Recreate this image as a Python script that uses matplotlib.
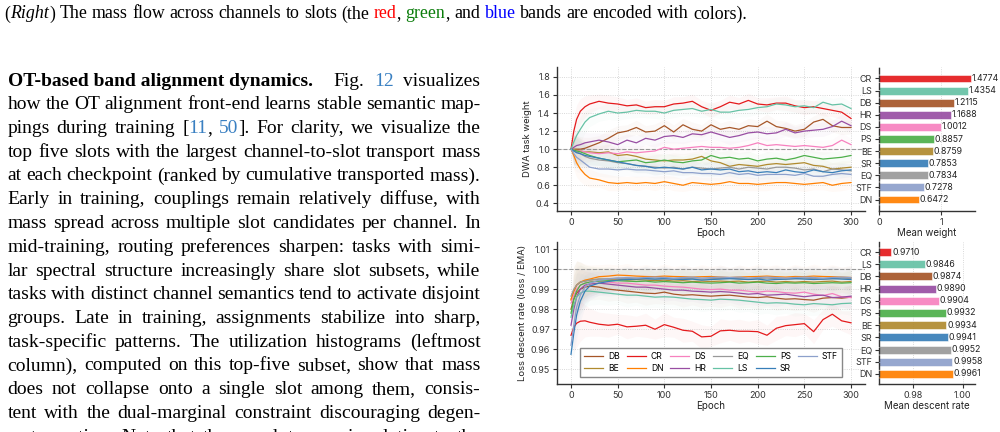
import re

import numpy as np
import matplotlib.pyplot as plt

plt.rcParams["font.family"] = ["Inter", "DejaVu Sans"]

W, H = 1000, 432

# ----------------------------- DATA -----------------------------
EPOCHS = [0, 3, 6, 10, 15, 20,
          30, 40, 50, 60, 70, 80, 90,
          100, 110, 120, 130, 140, 150, 160,
          170, 180, 190, 200, 210, 220, 230,
          240, 250, 260, 270, 280, 290, 300]

# DWA task weight (smoothed) per task
W_CR = [1.00, 1.20, 1.33, 1.42, 1.47, 1.50,
        1.53, 1.51, 1.50, 1.48, 1.49, 1.46, 1.47,
        1.47, 1.50, 1.51, 1.53, 1.47, 1.43, 1.47,
        1.52, 1.50, 1.54, 1.50, 1.49, 1.51, 1.51,
        1.48, 1.46, 1.47, 1.45, 1.43, 1.41, 1.34]
W_LS = [1.00, 1.08, 1.15, 1.22, 1.30, 1.35,
        1.39, 1.42, 1.40, 1.41, 1.43, 1.42, 1.42,
        1.40, 1.43, 1.44, 1.45, 1.42, 1.44, 1.41,
        1.41, 1.43, 1.44, 1.46, 1.47, 1.50, 1.49,
        1.47, 1.48, 1.46, 1.52, 1.49, 1.50, 1.45]
W_DB = [1.00, 1.00, 1.00, 1.00, 1.01, 1.03,
        1.07, 1.12, 1.18, 1.20, 1.24, 1.19, 1.20,
        1.26, 1.19, 1.27, 1.22, 1.20, 1.27, 1.22,
        1.24, 1.22, 1.26, 1.25, 1.31, 1.25, 1.23,
        1.20, 1.22, 1.30, 1.33, 1.26, 1.24, 1.24]
W_HR = [1.00, 1.02, 1.04, 1.05, 1.07, 1.08,
        1.10, 1.08, 1.05, 1.10, 1.07, 1.12, 1.10,
        1.14, 1.15, 1.13, 1.17, 1.16, 1.19, 1.16,
        1.13, 1.15, 1.18, 1.19, 1.17, 1.18, 1.22,
        1.18, 1.20, 1.21, 1.22, 1.25, 1.31, 1.26]
W_DS = [1.00, 0.99, 0.98, 0.98, 0.97, 0.96,
        0.95, 0.96, 0.95, 0.97, 0.96, 0.97, 0.98,
        1.02, 1.00, 1.01, 1.02, 1.03, 1.02, 1.02,
        1.01, 1.02, 1.04, 1.07, 1.04, 1.05, 1.04,
        1.03, 1.04, 1.03, 1.02, 1.04, 1.10, 1.05]
W_PS = [1.00, 0.99, 0.98, 0.97, 0.95, 0.93,
        0.90, 0.88, 0.86, 0.87, 0.88, 0.85, 0.86,
        0.88, 0.86, 0.85, 0.87, 0.88, 0.93, 0.90,
        0.91, 0.89, 0.90, 0.87, 0.89, 0.90, 0.88,
        0.90, 0.93, 0.91, 0.89, 0.90, 0.91, 0.93]
W_BE = [1.00, 0.99, 0.99, 0.98, 0.97, 0.97,
        0.96, 0.97, 0.93, 0.94, 0.92, 0.89, 0.88,
        0.87, 0.88, 0.88, 0.89, 0.92, 0.87, 0.85,
        0.81, 0.83, 0.82, 0.81, 0.83, 0.84, 0.83,
        0.84, 0.85, 0.82, 0.81, 0.78, 0.79, 0.80]
W_SR = [1.00, 0.98, 0.96, 0.95, 0.93, 0.92,
        0.90, 0.88, 0.86, 0.84, 0.82, 0.81, 0.79,
        0.80, 0.79, 0.78, 0.80, 0.77, 0.78, 0.77,
        0.78, 0.75, 0.76, 0.74, 0.75, 0.74, 0.77,
        0.75, 0.74, 0.77, 0.75, 0.74, 0.76, 0.77]
W_EQ = [1.00, 0.98, 0.97, 0.95, 0.92, 0.90,
        0.88, 0.87, 0.85, 0.84, 0.82, 0.81, 0.80,
        0.79, 0.80, 0.78, 0.80, 0.79, 0.78, 0.79,
        0.80, 0.78, 0.80, 0.79, 0.78, 0.80, 0.80,
        0.79, 0.77, 0.78, 0.75, 0.78, 0.77, 0.76]
W_STF = [1.00, 0.95, 0.91, 0.88, 0.84, 0.80,
         0.78, 0.78, 0.77, 0.78, 0.77, 0.77, 0.76,
         0.75, 0.76, 0.74, 0.74, 0.73, 0.73, 0.72,
         0.74, 0.72, 0.73, 0.71, 0.72, 0.72, 0.72,
         0.71, 0.73, 0.70, 0.70, 0.72, 0.73, 0.72]
W_DN = [1.00, 0.93, 0.85, 0.78, 0.72, 0.68,
        0.66, 0.63, 0.62, 0.63, 0.62, 0.63, 0.62,
        0.64, 0.62, 0.60, 0.63, 0.62, 0.61, 0.62,
        0.64, 0.62, 0.62, 0.61, 0.62, 0.63, 0.63,
        0.62, 0.61, 0.62, 0.63, 0.60, 0.62, 0.63]

# loss descent rate (loss / EMA) per task
R_CR = [0.9670, 0.9710, 0.9730, 0.9740, 0.9742, 0.9735,
        0.9725, 0.9720, 0.9725, 0.9712, 0.9715, 0.9720, 0.9700,
        0.9723, 0.9710, 0.9695, 0.9690, 0.9662, 0.9665, 0.9692,
        0.9695, 0.9690, 0.9690, 0.9688, 0.9670, 0.9705, 0.9718,
        0.9723, 0.9728, 0.9688, 0.9748, 0.9775, 0.9742, 0.9732]
R_LS = [0.9760, 0.9820, 0.9860, 0.9880, 0.9890, 0.9890,
        0.9885, 0.9880, 0.9875, 0.9870, 0.9870, 0.9865, 0.9860,
        0.9862, 0.9860, 0.9855, 0.9850, 0.9848, 0.9845, 0.9850,
        0.9848, 0.9845, 0.9840, 0.9835, 0.9830, 0.9832, 0.9830,
        0.9825, 0.9822, 0.9828, 0.9825, 0.9822, 0.9828, 0.9830]
R_DB = [0.9800, 0.9850, 0.9880, 0.9900, 0.9910, 0.9915,
        0.9910, 0.9900, 0.9895, 0.9890, 0.9885, 0.9880, 0.9878,
        0.9885, 0.9875, 0.9870, 0.9872, 0.9868, 0.9865, 0.9868,
        0.9870, 0.9865, 0.9860, 0.9858, 0.9862, 0.9855, 0.9850,
        0.9852, 0.9848, 0.9845, 0.9855, 0.9858, 0.9855, 0.9860]
R_HR = [0.9720, 0.9800, 0.9860, 0.9900, 0.9920, 0.9925,
        0.9930, 0.9925, 0.9920, 0.9915, 0.9910, 0.9910, 0.9905,
        0.9900, 0.9895, 0.9895, 0.9890, 0.9888, 0.9885, 0.9888,
        0.9885, 0.9880, 0.9875, 0.9878, 0.9870, 0.9872, 0.9875,
        0.9868, 0.9862, 0.9868, 0.9870, 0.9858, 0.9860, 0.9865]
R_DS = [0.9830, 0.9870, 0.9900, 0.9920, 0.9930, 0.9935,
        0.9940, 0.9935, 0.9930, 0.9930, 0.9925, 0.9920, 0.9920,
        0.9915, 0.9912, 0.9910, 0.9905, 0.9900, 0.9898, 0.9900,
        0.9895, 0.9895, 0.9890, 0.9885, 0.9890, 0.9888, 0.9882,
        0.9880, 0.9885, 0.9875, 0.9868, 0.9878, 0.9862, 0.9858]
R_PS = [0.9780, 0.9850, 0.9890, 0.9920, 0.9930, 0.9935,
        0.9940, 0.9942, 0.9942, 0.9940, 0.9938, 0.9940, 0.9935,
        0.9938, 0.9935, 0.9932, 0.9935, 0.9932, 0.9930, 0.9932,
        0.9935, 0.9930, 0.9932, 0.9935, 0.9930, 0.9928, 0.9932,
        0.9930, 0.9932, 0.9928, 0.9930, 0.9932, 0.9930, 0.9932]
R_BE = [0.9850, 0.9890, 0.9920, 0.9935, 0.9940, 0.9945,
        0.9950, 0.9948, 0.9950, 0.9945, 0.9948, 0.9945, 0.9942,
        0.9945, 0.9940, 0.9942, 0.9938, 0.9940, 0.9938, 0.9940,
        0.9938, 0.9940, 0.9935, 0.9938, 0.9940, 0.9935, 0.9938,
        0.9935, 0.9938, 0.9935, 0.9938, 0.9940, 0.9935, 0.9938]
R_SR = [0.9575, 0.9680, 0.9770, 0.9840, 0.9890, 0.9915,
        0.9930, 0.9938, 0.9945, 0.9948, 0.9950, 0.9952, 0.9950,
        0.9952, 0.9950, 0.9948, 0.9950, 0.9945, 0.9948, 0.9950,
        0.9952, 0.9950, 0.9948, 0.9950, 0.9945, 0.9948, 0.9950,
        0.9952, 0.9950, 0.9948, 0.9950, 0.9952, 0.9950, 0.9948]
R_EQ = [0.9865, 0.9900, 0.9920, 0.9935, 0.9940, 0.9945,
        0.9950, 0.9952, 0.9955, 0.9952, 0.9955, 0.9952, 0.9950,
        0.9952, 0.9950, 0.9953, 0.9952, 0.9950, 0.9952, 0.9953,
        0.9955, 0.9952, 0.9950, 0.9953, 0.9955, 0.9952, 0.9950,
        0.9952, 0.9955, 0.9953, 0.9950, 0.9952, 0.9955, 0.9953]
R_STF = [0.9620, 0.9720, 0.9810, 0.9870, 0.9910, 0.9930,
         0.9945, 0.9950, 0.9955, 0.9958, 0.9955, 0.9958, 0.9960,
         0.9958, 0.9955, 0.9958, 0.9960, 0.9955, 0.9958, 0.9960,
         0.9958, 0.9960, 0.9955, 0.9958, 0.9960, 0.9958, 0.9955,
         0.9958, 0.9960, 0.9958, 0.9955, 0.9958, 0.9960, 0.9958]
R_DN = [0.9845, 0.9890, 0.9920, 0.9935, 0.9945, 0.9950,
        0.9962, 0.9965, 0.9970, 0.9968, 0.9965, 0.9963, 0.9962,
        0.9965, 0.9963, 0.9962, 0.9960, 0.9962, 0.9963, 0.9960,
        0.9958, 0.9960, 0.9962, 0.9963, 0.9965, 0.9962, 0.9960,
        0.9963, 0.9962, 0.9965, 0.9963, 0.9962, 0.9960, 0.9958]

# half-width of the faint raw-value band behind each line
BAND_W = [0.00, 0.16, 0.16, 0.14, 0.12, 0.10,
          0.08, 0.09, 0.08, 0.07, 0.08, 0.07, 0.08,
          0.07, 0.08, 0.07, 0.08, 0.07, 0.08, 0.07,
          0.08, 0.07, 0.08, 0.07, 0.08, 0.07, 0.08,
          0.07, 0.08, 0.07, 0.08, 0.07, 0.08, 0.07]
BAND_R = [0.000, 0.012, 0.012, 0.010, 0.008, 0.007,
          0.006, 0.006, 0.005, 0.006, 0.005, 0.006, 0.005,
          0.006, 0.005, 0.006, 0.005, 0.006, 0.005, 0.006,
          0.005, 0.006, 0.005, 0.006, 0.005, 0.006, 0.005,
          0.006, 0.005, 0.006, 0.005, 0.006, 0.005, 0.006]

LEGEND_ORDER = ["DB", "BE", "CR", "DN", "DS", "HR", "EQ", "LS", "PS", "SR", "STF"]
BAR_ORDER = ["CR", "LS", "DB", "HR", "DS", "PS", "BE", "SR", "EQ", "STF", "DN"]
MEAN_WEIGHT = [1.4774, 1.4354, 1.2115, 1.1688, 1.0012, 0.8857, 0.8759, 0.7853, 0.7834, 0.7278, 0.6472]
MEAN_RATE = [0.9710, 0.9846, 0.9874, 0.9890, 0.9904, 0.9932, 0.9934, 0.9941, 0.9952, 0.9958, 0.9961]

COLORS = {"CR": "#e41a1c", "LS": "#66c2a5", "DB": "#a65628", "HR": "#984ea3",
          "DS": "#f781bf", "PS": "#4daf4a", "BE": "#b08a2e", "SR": "#377eb8",
          "EQ": "#999999", "STF": "#8da0cb", "DN": "#ff7f00"}

WEIGHTS = {"CR": W_CR, "LS": W_LS, "DB": W_DB, "HR": W_HR, "DS": W_DS, "PS": W_PS,
           "BE": W_BE, "SR": W_SR, "EQ": W_EQ, "STF": W_STF, "DN": W_DN}
RATES = {"CR": R_CR, "LS": R_LS, "DB": R_DB, "HR": R_HR, "DS": R_DS, "PS": R_PS,
         "BE": R_BE, "SR": R_SR, "EQ": R_EQ, "STF": R_STF, "DN": R_DN}

# ----------------------------- TEXT -----------------------------
CAPTION = ("({i:Right}) The mass flow across channels to slots (the {r:red}, "
           "{g:green}, and {u:blue} bands are encoded with colors).")
HEADING = "{b:OT-based band alignment dynamics.} Fig. {l:12} visualizes"
PARAGRAPH = [
    "how the OT alignment front-end learns stable semantic map-",
    "pings during training [{l:11}, {l:50}]. For clarity, we visualize the",
    "top five slots with the largest channel-to-slot transport mass",
    "at each checkpoint (ranked by cumulative transported mass).",
    "Early in training, couplings remain relatively diffuse, with",
    "mass spread across multiple slot candidates per channel. In",
    "mid-training, routing preferences sharpen: tasks with simi-",
    "lar spectral structure increasingly share slot subsets, while",
    "tasks with distinct channel semantics tend to activate disjoint",
    "groups. Late in training, assignments stabilize into sharp,",
    "task-specific patterns. The utilization histograms (leftmost",
    "column), computed on this top-five subset, show that mass",
    "does not collapse onto a single slot among them, consis-",
    "tent with the dual-marginal constraint discouraging degen-",
    "erate routing. Note that the per-slot mass is relative to the",
]

SERIF = ["Liberation Serif", "DejaVu Serif"]
FS_BODY = 14.0
FS_CAPTION = 12.9
MARK = {"b": {"fontweight": "bold"}, "i": {"fontstyle": "italic"},
        "l": {"color": "#3a80c2"}, "r": {"color": "#ff0000"},
        "g": {"color": "#0b7d0b"}, "u": {"color": "#0000ff"}}


def word_pieces(word):
    pieces = []
    for part in re.split(r"(\{[a-z]:[^}]*\})", word):
        if not part:
            continue
        if part.startswith("{"):
            pieces.append((part[3:-1], MARK[part[1]]))
        else:
            pieces.append((part, {}))
    return pieces


def place_line(fig, renderer, line, baseline, x0, x1, size, justify=True, extra=None):
    words = re.findall(r"(?:\{[^}]*\}|\S)+", line)
    items = []
    for w in words:
        arts = []
        for txt, props in word_pieces(w):
            kw = {"color": "black"}
            kw.update(props)
            t = fig.text(0, 1 - baseline / H, txt, fontsize=size, family=SERIF,
                         va="baseline", ha="left", **kw)
            arts.append((t, t.get_window_extent(renderer).width))
        items.append(arts)
    widths = [sum(wd for _, wd in a) for a in items]
    extra = extra or {}
    space = size * fig.dpi / 72 * 0.25
    if justify and len(items) > 1:
        gap = (x1 - x0 - sum(widths) - sum(extra.values())) / (len(items) - 1)
    else:
        gap = space
    x = x0
    for i, arts in enumerate(items):
        for t, wd in arts:
            t.set_x(x / W)
            x += wd
        x += gap + extra.get(i, 0)


def style_axes(ax):
    for s in ("top", "right"):
        ax.spines[s].set_visible(False)
    for s in ("left", "bottom"):
        ax.spines[s].set_color("#333333")
        ax.spines[s].set_linewidth(1.0)
    ax.tick_params(labelsize=6.5, length=3, width=0.8, color="#333333",
                   labelcolor="#333333", pad=2)
    ax.grid(True, linestyle=":", color="#cccccc", linewidth=0.6)
    ax.set_axisbelow(True)


def line_panel(ax, series, band, ylim, yticks, ylabel):
    style_axes(ax)
    band = np.array(band)
    for name in LEGEND_ORDER:
        y = np.array(series[name])
        ax.fill_between(EPOCHS, y - band, y + band, color=COLORS[name],
                        alpha=0.03, lw=0)
        ax.plot(EPOCHS, y, color=COLORS[name], lw=0.9, label=name)
    ax.axhline(1.0, color="#999999", lw=0.8, ls="--", zorder=1)
    ax.set_xlim(-15, 315)
    ax.set_xticks([0, 50, 100, 150, 200, 250, 300])
    ax.set_ylim(*ylim)
    ax.set_yticks(yticks)
    ax.set_xlabel("Epoch", fontsize=7, labelpad=1, color="#222222")
    ax.set_ylabel(ylabel, fontsize=6.8, labelpad=3, color="#222222")


def bar_panel(ax, values, xlim, xticks, xticklabels, xlabel, ylim, fmt_off):
    style_axes(ax)
    ax.grid(axis="y", visible=False)
    ax.spines["left"].set_linestyle((0, (4, 1.5)))
    pos = np.arange(len(BAR_ORDER))
    ax.barh(pos, values, height=0.65, color=[COLORS[n] for n in BAR_ORDER],
            alpha=0.92, edgecolor="white", linewidth=0.4)
    for p, v in zip(pos, values):
        ax.text(v + fmt_off, p, f"{v:.4f}", fontsize=6.3, va="center",
                ha="left", color="#222222")
    ax.set_yticks(pos, BAR_ORDER)
    ax.set_ylim(*ylim)
    ax.set_xlim(*xlim)
    ax.set_xticks(xticks, xticklabels)
    ax.set_xlabel(xlabel, fontsize=7, labelpad=1, color="#222222")


def main():
    fig = plt.figure(figsize=(W / 100, H / 100), dpi=100)
    renderer = fig.canvas.get_renderer()

    # text column
    place_line(fig, renderer, CAPTION, 18.5, 4.5, None, FS_CAPTION, justify=False)
    em = FS_BODY * 100 / 72
    place_line(fig, renderer, HEADING, 85.5, 7.5, 480.5, FS_BODY, extra={0: em * 0.6})
    for i, line in enumerate(PARAGRAPH):
        place_line(fig, renderer, line, 85.5 + 23.75 * (i + 1), 7.5, 480.5, FS_BODY)

    # charts
    ax_w = fig.add_axes([0.557, 1 - 211 / H, 0.308, 144 / H])
    ax_wb = fig.add_axes([0.879, 1 - 211 / H, 0.096, 144 / H])
    ax_r = fig.add_axes([0.557, 1 - 384 / H, 0.308, 142 / H])
    ax_rb = fig.add_axes([0.879, 1 - 384 / H, 0.096, 142 / H])

    line_panel(ax_w, WEIGHTS, BAND_W, (0.315, 1.91),
               [0.4, 0.6, 0.8, 1.0, 1.2, 1.4, 1.6, 1.8], "DWA task weight")
    line_panel(ax_r, RATES, BAND_R, (0.9427, 1.0135),
               [0.95, 0.96, 0.97, 0.98, 0.99, 1.00, 1.01],
               "Loss descent rate (loss / EMA)")
    ax_r.legend(ncol=6, loc="lower center", bbox_to_anchor=(0.5, 0.02),
                fontsize=6.2, frameon=True, fancybox=False, edgecolor="#888888",
                framealpha=1, handlelength=2.2, handletextpad=0.6,
                columnspacing=0.8, borderpad=0.5, labelspacing=0.3)

    bar_panel(ax_wb, MEAN_WEIGHT, (0, 1.55), [0, 1], ["0", "1"], "Mean weight",
              (10.95, -0.95), 0.01)
    bar_panel(ax_rb, MEAN_RATE, (0.966, 1.005), [0.98, 1.00], ["0.98", "1.00"],
              "Mean descent rate", (10.82, -0.82), 0.0003)

    fig.savefig("out.png", dpi=100)
    plt.close(fig)


if __name__ == "__main__":
    main()
